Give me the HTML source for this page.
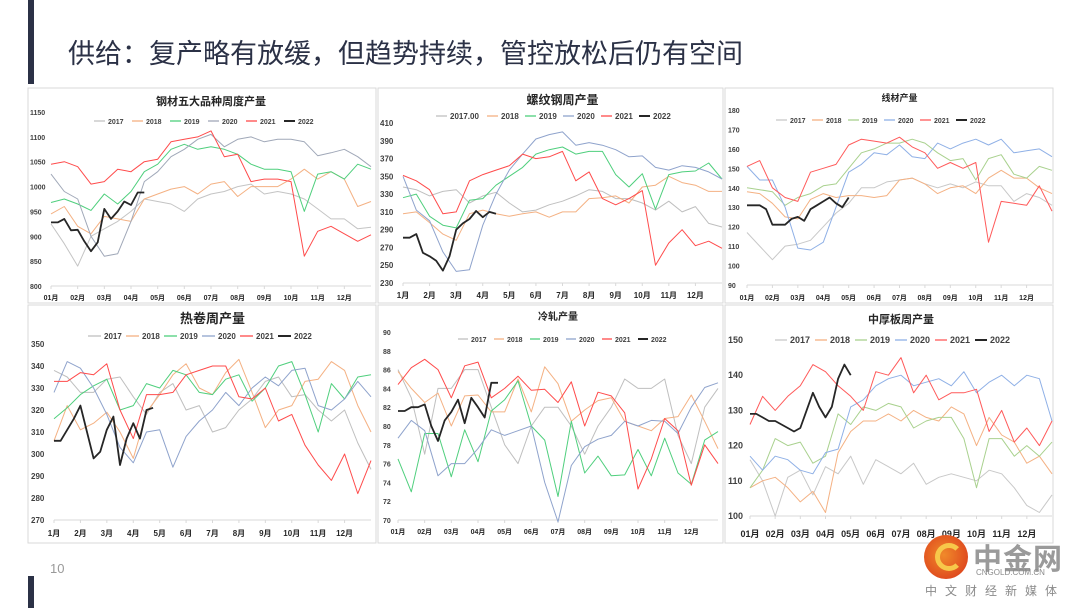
<!DOCTYPE html>
<html><head><meta charset="utf-8">
<style>
body{margin:0;width:1080px;height:608px;background:#fff;overflow:hidden;position:relative;font-family:"Liberation Sans","Noto Sans CJK SC",sans-serif;}
.abs{position:absolute;}
svg text{font-family:"Liberation Sans","Noto Sans CJK SC",sans-serif;}
</style></head>
<body>
<div class="abs" style="left:28px;top:0;width:6px;height:84px;background:#2b3146"></div>
<div class="abs" style="left:68px;top:32px;font-size:27px;color:#2b3146;white-space:nowrap;">供给：复产略有放缓，但趋势持续，管控放松后仍有空间</div>
<div class="abs" style="left:28px;top:576px;width:6px;height:32px;background:#2b3146"></div>
<div class="abs" style="left:50px;top:561px;font-size:13px;color:#999;">10</div>
<svg id="main" class="abs" style="left:0;top:0" width="1080" height="608"></svg>
<div class="abs" style="left:924px;top:535px;width:44px;height:44px;border-radius:50%;background:radial-gradient(circle at 45% 45%,#f08a2a,#d9331a);"></div>
<div class="abs" style="left:935px;top:543px;width:18px;height:18px;border-radius:50%;border:5px solid #f7c84a;border-right-color:transparent;"></div>
<div class="abs" style="left:973px;top:536px;font-size:29px;color:#9a9a9a;font-weight:bold;letter-spacing:1px;">中金网</div>
<div class="abs" style="left:976px;top:568px;font-size:8px;color:#8a8a8a;">CNGOLD.COM.CN</div>
<div class="abs" style="left:925px;top:582px;font-size:12px;color:#8a8a8a;letter-spacing:8px;">中文财经新媒体</div>
<script>
const years=["2017","2018","2019","2020","2021","2022"];
const monthsA=["01月","02月","03月","04月","05月","06月","07月","08月","09月","10月","11月","12月"];
const monthsB=["1月","2月","3月","4月","5月","6月","7月","8月","9月","10月","11月","12月"];

const c1_2017=[925,885,840,900,915,930,950,975,970,965,950,975,985,990,1000,1005,985,990,985,975,955,935,935,915,918];
const c1_2018=[945,960,920,905,940,935,930,975,985,995,1000,985,1005,1010,980,1000,1000,1000,1015,1035,1015,1030,1015,960,970];
const c1_2019=[968,975,965,952,985,965,990,1030,1045,1075,1085,1075,1080,1075,1065,1045,1035,1035,1030,950,1025,1030,1015,1045,1035];
const c1_2020=[1025,990,975,900,860,865,930,1010,1030,1060,1075,1095,1105,1080,1095,1100,1090,1095,1095,1090,1062,1068,1075,1060,1040];
const c1_2021=[1045,1050,1040,1005,1010,1035,1030,1050,1055,1090,1095,1100,1112,1060,1065,1010,1015,1015,1010,860,910,920,905,890,903];
const c1_2022=[928,928,935,912,913,890,870,888,955,935,950,970,963,988,988];

const c2_2017=[338,335,328,333,335,320,328,332,320,310,312,318,322,328,335,333,325,325,320,312,322,310,316,297,293];
const c2_2018=[308,310,298,285,278,308,312,308,305,308,310,304,310,310,325,326,328,320,338,340,350,343,340,333,333];
const c2_2019=[326,330,305,295,292,323,325,340,350,360,375,380,383,375,378,378,352,338,353,313,352,355,356,365,347];
const c2_2020=[350,312,300,265,243,245,295,330,357,375,392,397,400,385,388,385,380,372,373,360,357,362,360,355,347];
const c2_2021=[351,345,335,308,310,345,352,357,362,375,370,372,378,345,355,325,318,325,334,250,275,290,272,277,269];
const c2_2022=[281,281,285,264,260,255,244,260,290,297,302,311,304,310,308];

const c3_2017=[117,110,103,110,111,113,120,127,132,140,140,143,144,145,142,140,142,140,143,141,141,133,137,135,131];
const c3_2018=[138,137,132,125,124,134,137,135,136,136,135,136,144,145,142,137,140,141,137,145,149,145,145,140,137];
const c3_2019=[140,139,138,131,135,137,141,142,150,158,160,163,163,165,163,158,154,155,144,155,157,147,145,151,149];
const c3_2020=[151,144,144,130,109,108,112,130,148,152,158,157,162,156,155,163,160,163,165,162,165,158,159,160,156];
const c3_2021=[151,154,140,135,133,148,150,152,162,165,164,163,166,161,158,150,153,150,153,112,133,132,131,141,128];
const c3_2022=[131,131,131,129,121,121,121,124,125,123,129,131,133,135,132,130,135];

const c4_2017=[338,335,328,328,334,335,326,318,328,332,320,322,310,312,320,325,333,335,326,327,320,315,320,305,293];
const c4_2018=[306,322,311,314,319,310,298,319,327,336,341,330,327,337,343,328,312,320,322,333,334,342,338,322,310];
const c4_2019=[316,321,327,331,334,320,322,332,330,338,336,328,327,334,336,324,330,340,342,327,310,332,325,335,336];
const c4_2020=[328,342,339,330,318,303,296,310,311,294,308,315,320,328,322,330,335,331,338,339,322,320,325,333,326];
const c4_2021=[333,333,337,336,341,320,307,327,327,328,336,338,340,340,326,325,330,315,318,304,295,288,300,282,297];
const c4_2022=[306,306,311,316,322,310,298,301,311,317,295,307,314,307,320,321];

const c5_2017=[86,83,77,84,84,86,86,82,78,76,80,82,82,80,77,80,82,85,84,84,85,79,76,82,84];
const c5_2018=[85.8,84,82.5,83.5,80,83.2,83.3,81.5,81.5,85,81.5,86.3,84.5,80.5,81.7,82.7,83,80.5,80,79.5,80.8,81,83.3,80.5,77.6];
const c5_2019=[76.5,73,79.2,79.2,74.6,79.6,76.2,81.6,82.8,84.8,80,78.5,72.5,80.5,75,76.8,74.7,74.8,77.5,74.7,78.7,75,73.8,78.5,79.4];
const c5_2020=[78.7,80.6,79.5,74.7,76,76,77.6,79.6,79,79.5,80,74,69.8,75.8,77.8,78.6,79,80.5,80,80.6,80.5,79.2,82,84.1,84.6];
const c5_2021=[84.4,86.2,87.1,86,83,86.4,86.8,83,84,85.3,83.8,83.9,82.5,84.7,80,83.6,83.2,81.4,73.3,76.5,80.8,79.5,73.7,78,76];
const c5_2022=[81.6,81.6,82,82,82.3,80,78.4,80.6,81.5,82.8,80.3,83,82,80.9,84.6,84.6];

const c6_2017=[116,110,100,111,113,106,114,112,117,109,116,114,112,115,109,111,112,111,110,113,112,108,103,101,106];
const c6_2018=[108,110,111,108,104,107,101,118,124,127,127,129,127,130,128,127,131,129,120,128,123,121,115,117,112];
const c6_2019=[108,113,122,120,121,115,117,129,126,131,130,132,131,125,127,128,128,122,108,122,122,117,120,117,121];
const c6_2020=[117,113,117,116,113,112,118,119,131,133,137,139,140,137,138,139,137,141,135,138,140,137,140,139,127];
const c6_2021=[126,134,130,134,137,143,141,137,134,130,141,140,145,135,140,133,135,135,136,124,130,121,125,120,127];
const c6_2022=[129,129,128,127,127,126,125,124,125,130,135,131,128,131,139,143,140];

const NS="http://www.w3.org/2000/svg";
const svg=document.getElementById('main');
function mk(tag,attrs,parent){const e=document.createElementNS(NS,tag);for(const k in attrs)e.setAttribute(k,attrs[k]);(parent||svg).appendChild(e);return e;}

function chart(o){
  const g=mk('g',{});
  
  
  const bg=mk('rect',{x:o.box[0],y:o.box[1],width:o.box[2],height:o.box[3],fill:'#fff',stroke:'#d9d9d9','stroke-width':1},g);
  
  
  const L=o.plot[0],T=o.plot[1],R=o.plot[2],B=o.plot[3];
  const yS=v=>B-(v-o.ymin)/(o.ymax-o.ymin)*(B-T);
  const xW=w=>L+w/48*(R-L);
  const t=mk('text',{x:(L+R)/2,y:o.titleY,'text-anchor':'middle','font-size':o.titleSize,'font-weight':'bold',fill:'#262626'},g);
  t.textContent=o.title;
  
  
  for(let v=o.ymin;v<=o.ymax+1e-9;v+=o.ystep){
    const tx=mk('text',{x:o.ylabX,y:yS(v)+3,'font-size':o.tickSize,'font-weight':'bold',fill:'#404040'},g);
    tx.textContent=String(Math.round(v*100)/100);
    
    
  }
  mk('line',{x1:L,y1:B,x2:R,y2:B,stroke:'#d9d9d9'},g);
  for(let m=0;m<12;m++){
    const x=L+m*(R-L)/12;
    mk('line',{x1:x,y1:B,x2:x,y2:B+3,stroke:'#d9d9d9'},g);
    const tx=mk('text',{x:x,y:o.xlabY,'text-anchor':'middle','font-size':o.tickSize,'font-weight':'bold',fill:'#262626'},g);
    tx.textContent=o.months[m];
    
    
  }
  const names=o.legendNames;
  let lx=o.legX;
  names.forEach((n,i)=>{
    const le=mk('g',{},g);
    
    
    mk('line',{x1:lx,y1:o.legY-3,x2:lx+o.legSw,y2:o.legY-3,stroke:o.colors[i],'stroke-width':i==5?2:1.3},le);
    const tx=mk('text',{x:lx+o.legSw+3,y:o.legY,'font-size':o.legSize,'font-weight':'bold',fill:'#404040'},le);
    tx.textContent=n;
    lx+=o.legSw+3+o.legStep[i];
  });
  o.series.forEach((s,i)=>{
    const weekly=(i==5);
    const pts=s.map((v,j)=>xW(weekly?j:j*2).toFixed(1)+','+yS(v).toFixed(1)).join(' ');
    const p=mk('polyline',{points:pts,fill:'none',stroke:o.colors[i],'stroke-width':i==5?1.8:1,'stroke-linejoin':'round'},g);
    
    
  });
}
const colA=['#bfbfbf','#f4b183','#4fcf7d','#8fa3cc','#ff4b4b','#262626'];
const colA1=['#c4c4c4','#f4b183','#4fcf7d','#a0a8b8','#ff4b4b','#262626'];
const colB=['#c8c8c8','#f4b183','#a9d18e','#8fb0e6','#ff5a5a','#262626'];
const legN=["2017","2018","2019","2020","2021","2022"];

chart({name:'chart-steel-five-products',box:[28,88,348,215],plot:[51,112,371,286],ymin:800,ymax:1150,ystep:50,ylabX:30,xlabY:300,months:monthsA,
 title:'钢材五大品种周度产量',titleY:105,titleSize:11,tickSize:7,legX:94,legY:124,legSw:11,legSize:7,legStep:[24,24,24,24,24,24],legendNames:legN,colors:colA1,
 series:[c1_2017,c1_2018,c1_2019,c1_2020,c1_2021,c1_2022]});
chart({name:'chart-rebar',box:[378,88,345,215],plot:[403,123,722,283],ymin:230,ymax:410,ystep:20,ylabX:380,xlabY:298,months:monthsB,
 title:'螺纹钢周产量',titleY:104,titleSize:12,tickSize:8,legX:436,legY:119,legSw:11,legSize:8,legStep:[37,24,24,24,24,24],legendNames:["2017.00","2018","2019","2020","2021","2022"],colors:colA,
 series:[c2_2017,c2_2018,c2_2019,c2_2020,c2_2021,c2_2022]});
chart({name:'chart-wire-rod',box:[725,88,328,215],plot:[747,110,1052,285],ymin:90,ymax:180,ystep:10,ylabX:728,xlabY:300,months:monthsA,
 title:'线材产量',titleY:101,titleSize:9,tickSize:7,legX:776,legY:123,legSw:11,legSize:7,legStep:[22,22,22,22,22,22],legendNames:legN,colors:colB,
 series:[c3_2017,c3_2018,c3_2019,c3_2020,c3_2021,c3_2022]});
chart({name:'chart-hot-rolled-coil',box:[28,305,348,238],plot:[54,344,371,520],ymin:270,ymax:350,ystep:10,ylabX:31,xlabY:536,months:monthsB,
 title:'热卷周产量',titleY:323,titleSize:13,tickSize:8,legX:88,legY:339,legSw:13,legSize:8,legStep:[22,22,22,22,22,22],legendNames:legN,colors:colA,
 series:[c4_2017,c4_2018,c4_2019,c4_2020,c4_2021,c4_2022]});
chart({name:'chart-cold-rolled',box:[378,305,345,238],plot:[398,332,718,520],ymin:70,ymax:90,ystep:2,ylabX:383,xlabY:534,months:monthsA,
 title:'冷轧产量',titleY:320,titleSize:10,tickSize:7,legX:458,legY:342,legSw:10,legSize:7,legStep:[23,23,23,23,23,23],legendNames:legN,colors:colA,
 series:[c5_2017,c5_2018,c5_2019,c5_2020,c5_2021,c5_2022]});
chart({name:'chart-medium-heavy-plate',box:[725,305,328,238],plot:[750,340,1052,516],ymin:100,ymax:150,ystep:10,ylabX:728,xlabY:537,months:monthsA,
 title:'中厚板周产量',titleY:323,titleSize:11,tickSize:9,legX:775,legY:343,legSw:12,legSize:9,legStep:[25,25,25,25,25,25],legendNames:legN,colors:colB,
 series:[c6_2017,c6_2018,c6_2019,c6_2020,c6_2021,c6_2022]});
</script>
</body></html>
